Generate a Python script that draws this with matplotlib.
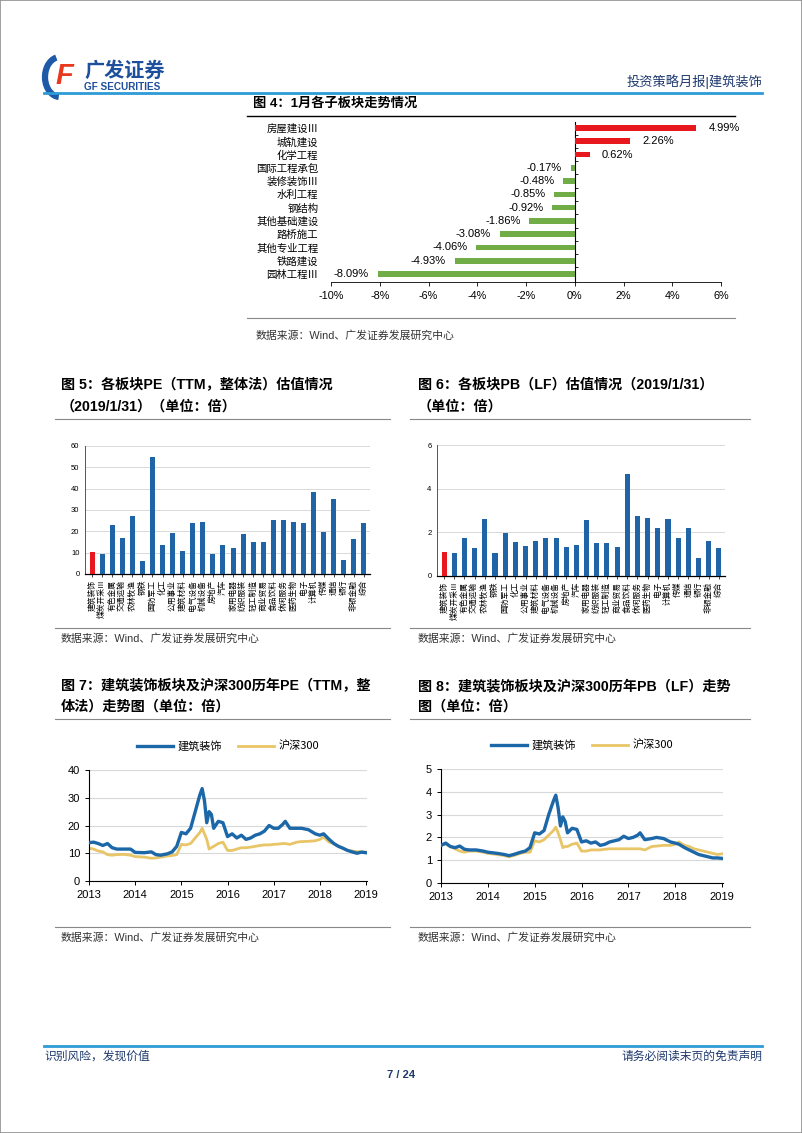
import matplotlib
matplotlib.use('Agg')
import matplotlib.pyplot as plt
from matplotlib.patches import Rectangle, Arc

plt.rcParams['font.family'] = ['Liberation Sans', 'Noto Sans CJK SC', 'DejaVu Sans']
plt.rcParams['axes.unicode_minus'] = False

W, H = 802, 1133

# ---- 图4 数据 ----
sub_names = ['房屋建设Ⅲ', '城轨建设', '化学工程', '国际工程承包', '装修装饰Ⅲ', '水利工程',
             '钢结构', '其他基础建设', '路桥施工', '其他专业工程', '铁路建设', '园林工程Ⅲ']
sub_ret = [4.99, 2.26, 0.62, -0.17, -0.48, -0.85, -0.92, -1.86, -3.08, -4.06, -4.93, -8.09]

# ---- 图5/6 数据 ----
inds = ['建筑装饰', '煤炭开采Ⅲ', '有色金属', '交通运输', '农林牧渔', '钢铁', '国防军工', '化工',
        '公用事业', '建筑材料', '电气设备', '机械设备', '房地产', '汽车', '家用电器', '纺织服装',
        '轻工制造', '商业贸易', '食品饮料', '休闲服务', '医药生物', '电子', '计算机', '传媒',
        '通信', '银行', '非银金融', '综合']
pe_ind = [10.3, 9.4, 22.8, 17.0, 27.2, 6.1, 54.8, 13.4, 19.1, 10.9, 23.9, 24.2, 9.4, 13.6,
          12.2, 18.9, 15.2, 15.2, 25.2, 25.2, 24.2, 23.9, 38.3, 19.8, 35.2, 6.6, 16.6, 24.1]
pb_ind = [1.12, 1.04, 1.72, 1.30, 2.59, 1.06, 1.96, 1.58, 1.39, 1.62, 1.75, 1.75, 1.32, 1.44,
          2.56, 1.53, 1.50, 1.35, 4.66, 2.73, 2.65, 2.21, 2.60, 1.75, 2.19, 0.84, 1.59, 1.26]

# ---- 图7/8 数据 ----
dates = [2013.0, 2013.1, 2013.2, 2013.3, 2013.4, 2013.5, 2013.6, 2013.75, 2013.9,
         2014.0, 2014.2, 2014.35, 2014.45, 2014.55, 2014.7, 2014.8, 2014.9,
         2015.0, 2015.1, 2015.2, 2015.3, 2015.4, 2015.45, 2015.5, 2015.55, 2015.6, 2015.65,
         2015.7, 2015.8, 2015.9,
         2016.0, 2016.1, 2016.2, 2016.3, 2016.4, 2016.5, 2016.6, 2016.7, 2016.8, 2016.9,
         2017.0, 2017.1, 2017.2, 2017.25, 2017.35, 2017.5, 2017.6, 2017.75, 2017.9,
         2018.0, 2018.08, 2018.2, 2018.3, 2018.4, 2018.5, 2018.6, 2018.7, 2018.8, 2018.9,
         2019.0]
pe_jz = [13.8, 14.0, 13.5, 12.8, 13.5, 12.0, 11.5, 11.5, 11.5,
         10.3, 10.2, 10.5, 9.5, 9.3, 9.8, 10.5, 12.5,
         17.5, 17.0, 19.0, 25.0, 31.0, 33.3, 29.0, 21.0, 25.0, 24.0,
         19.0, 21.5, 21.0,
         16.0, 17.0, 15.5, 16.5, 15.0, 15.5, 16.5, 17.0, 18.0, 20.0,
         19.0, 19.0, 20.5, 21.5, 19.0, 19.0, 19.0, 18.5, 17.0,
         16.5, 17.0, 15.0, 13.5, 12.5, 11.8, 11.0, 10.5, 10.0, 10.4,
         10.2]
pe_hs = [11.8, 11.5, 10.8, 10.5, 9.5, 9.3, 9.5, 9.6, 9.3,
         8.8, 8.6, 8.2, 8.3, 8.6, 9.0, 9.2, 9.5,
         13.2, 13.0, 13.5, 15.5, 17.5, 19.0, 17.0, 15.0, 11.5, 12.0,
         12.5, 13.5, 14.0,
         11.0, 11.0, 11.5, 12.0, 12.0, 12.2, 12.5, 12.8, 13.0, 13.0,
         13.2, 13.3, 13.5, 13.5, 13.2, 14.0, 14.2, 14.3, 14.5,
         15.0, 15.8, 14.0, 13.5, 12.5, 11.8, 11.0, 10.8, 10.6, 10.5,
         10.4]
pb_jz = [1.65, 1.75, 1.60, 1.55, 1.62, 1.48, 1.45, 1.45, 1.40,
         1.35, 1.30, 1.25, 1.20, 1.25, 1.35, 1.40, 1.55,
         2.20, 2.15, 2.30, 3.00, 3.60, 3.85, 3.30, 2.50, 2.90, 2.70,
         2.20, 2.40, 2.35,
         1.80, 1.85, 1.75, 1.80, 1.65, 1.70, 1.80, 1.85, 1.90, 2.05,
         1.95, 2.00, 2.10, 2.20, 1.90, 1.95, 2.00, 1.95, 1.80,
         1.75, 1.70, 1.55, 1.45, 1.35, 1.25, 1.20, 1.15, 1.10, 1.10,
         1.08]
pb_hs = [1.65, 1.70, 1.60, 1.50, 1.40, 1.35, 1.40, 1.40, 1.35,
         1.30, 1.25, 1.20, 1.15, 1.20, 1.30, 1.35, 1.35,
         1.85, 1.80, 1.90, 2.10, 2.30, 2.45, 2.20, 1.90, 1.55, 1.60,
         1.60, 1.70, 1.75,
         1.40, 1.40, 1.45, 1.45, 1.45, 1.48, 1.50, 1.50, 1.50, 1.50,
         1.50, 1.50, 1.50, 1.50, 1.45, 1.60, 1.62, 1.65, 1.65,
         1.70, 1.80, 1.65, 1.60, 1.50, 1.45, 1.40, 1.35, 1.30, 1.25,
         1.28]

BLUE = '#1f64a6'
LINE_BLUE = '#1b67a8'
YEL = '#e8c566'
RED = '#e8191e'
GREEN = '#70ad47'
NAVY = '#1f3a6e'
GRID = '#d9d9d9'
CJK = ['Noto Sans CJK SC', 'DejaVu Sans']


def box(x0, y0, x1, y1):
    return [x0 / W, 1 - y1 / H, (x1 - x0) / W, (y1 - y0) / H]


def P(x, y):
    return x / W, 1 - y / H


fig = plt.figure(figsize=(W / 100, H / 100), dpi=100)


def hline(x0, x1, y, color='black', lw=0.8):
    fig.add_artist(plt.Line2D([x0 / W, x1 / W], [1 - y / H, 1 - y / H], color=color, lw=lw))


# 页面边框
fig.add_artist(Rectangle((0, 0), 1, 1, transform=fig.transFigure, fill=False,
                         edgecolor='#909090', lw=1.2))

# ---- 页眉 ----
fig.add_artist(Arc(P(60, 77), 30 / W, 40 / H, theta1=105, theta2=265,
                   transform=fig.transFigure, color='#1e5aa8', lw=4.5))
fig.text(*P(64, 76), 'F', color='#e8381e', fontsize=21, fontweight='bold', style='italic',
         ha='center', va='center')
fig.text(*P(84, 71), '广发证券', color='#1e4f9c', fontsize=14.5, fontweight='bold', va='center')
fig.text(*P(84, 87), 'GF SECURITIES', color='#1e4f9c', fontsize=7.2, fontweight='bold', va='center')
fig.text(*P(762, 82), '投资策略月报|建筑装饰', color=NAVY, fontsize=9.5, ha='right', va='center')
hline(44, 762, 93, color='#2e9ad6', lw=2)

# ---- 图4 ----
fig.text(*P(253, 104), '图 4：1月各子板块走势情况', fontsize=9.5, fontweight='bold', va='center')
hline(247, 735, 116, lw=1)
ax4 = fig.add_axes(box(331, 122, 721, 282))
ypos = list(range(len(sub_names)))
cols = [RED if v > 0 else GREEN for v in sub_ret]
ax4.barh(ypos, sub_ret, height=0.42, color=cols)
for y, v in zip(ypos, sub_ret):
    if v > 0:
        ax4.text(v + 0.5, y, '%.2f%%' % v, va='center', ha='left', fontsize=8)
    else:
        ax4.text(v - 0.35, y, '%.2f%%' % v, va='center', ha='right', fontsize=8)
ax4.set_xlim(-10, 6)
ax4.set_ylim(11.6, -0.45)
ax4.set_xticks(range(-10, 7, 2))
ax4.set_xticklabels(['%d%%' % t for t in range(-10, 7, 2)], fontsize=7.8)
ax4.set_yticks(ypos)
ax4.set_yticklabels(sub_names, fontsize=7.5, family=CJK)
ax4.tick_params(axis='y', length=0, pad=9)
ax4.tick_params(axis='x', length=3, width=0.6)
for s in ['left', 'top', 'right']:
    ax4.spines[s].set_visible(False)
ax4.spines['bottom'].set_linewidth(0.6)
sec = ax4.secondary_yaxis(10 / 16)
sec.set_yticks([y + 0.5 for y in ypos[:-1]] + [-0.5])
sec.set_yticklabels([])
sec.tick_params(axis='y', direction='out', length=2.5, width=0.6)
sec.spines['left'].set_linewidth(0.8)
hline(247, 735, 318, color='#888888', lw=0.8)
fig.text(*P(256, 336), '数据来源：Wind、广发证券发展研究中心', fontsize=7.8, color='#333333', va='center')


# ---- 图5 / 图6 ----
def bar_panel(rect, vals, ymax, step, yfs):
    ax = fig.add_axes(rect)
    x = list(range(len(inds)))
    ax.bar(x, vals, width=0.5, color=[RED] + [BLUE] * (len(vals) - 1), zorder=3)
    ax.set_xlim(-0.7, len(inds) - 0.4)
    ax.set_ylim(0, ymax)
    ax.set_yticks(range(0, ymax + 1, step))
    ax.tick_params(axis='y', labelsize=yfs, length=0, pad=4)
    ax.set_xticks(x)
    ax.set_xticklabels(inds, rotation=90, fontsize=5.6, family=CJK)
    ax.tick_params(axis='x', length=2, width=0.5, pad=2)
    ax.grid(axis='y', color=GRID, lw=0.7, zorder=0)
    for s in ['top', 'right']:
        ax.spines[s].set_visible(False)
    ax.spines['left'].set_linewidth(0.7)
    ax.spines['left'].set_color('#555555')
    ax.spines['bottom'].set_linewidth(0.9)
    return ax


TFS = 10.2
fig.text(*P(61, 385), '图 5：各板块PE（TTM，整体法）估值情况', fontsize=TFS, fontweight='bold', va='center')
fig.text(*P(61, 407), '（2019/1/31）（单位：倍）', fontsize=TFS, fontweight='bold', va='center')
hline(55, 390, 419, color='#888888')
bar_panel(box(85, 446, 370, 574), pe_ind, 60, 10, 5.5)
hline(55, 390, 628, color='#888888')
fig.text(*P(61, 639), '数据来源：Wind、广发证券发展研究中心', fontsize=7.8, color='#333333', va='center')

fig.text(*P(418, 385), '图 6：各板块PB（LF）估值情况（2019/1/31）', fontsize=TFS, fontweight='bold', va='center')
fig.text(*P(418, 407), '（单位：倍）', fontsize=TFS, fontweight='bold', va='center')
hline(410, 750, 419, color='#888888')
bar_panel(box(437, 445, 725, 576), pb_ind, 6, 2, 5.5)
hline(410, 750, 628, color='#888888')
fig.text(*P(418, 639), '数据来源：Wind、广发证券发展研究中心', fontsize=7.8, color='#333333', va='center')


# ---- 图7 / 图8 ----
def line_panel(rect, jz, hs, ymax, step):
    ax = fig.add_axes(rect)
    ax.plot(dates, jz, color=LINE_BLUE, lw=2.4, label='建筑装饰', zorder=3)
    ax.plot(dates, hs, color=YEL, lw=2.0, label='沪深300', zorder=2)
    ax.set_xlim(2013, 2019.02)
    ax.set_ylim(0, ymax)
    ax.set_xticks(range(2013, 2020))
    ax.set_yticks(range(0, ymax + 1, step))
    ax.tick_params(axis='x', labelsize=8, length=3, width=0.7)
    ax.tick_params(axis='y', labelsize=8, length=3, width=0.7)
    ax.grid(axis='y', color=GRID, lw=0.8, zorder=0)
    for s in ['top', 'right']:
        ax.spines[s].set_visible(False)
    ax.spines['left'].set_linewidth(0.8)
    ax.spines['bottom'].set_linewidth(0.8)
    h = (rect[3] * H)
    ax.legend(loc='center', bbox_to_anchor=(0.5, 1 + 24 / h), ncol=2, frameon=False,
              handlelength=3.2, columnspacing=1.5, handletextpad=0.4,
              prop={'family': CJK, 'size': 8})
    return ax


fig.text(*P(61, 686), '图 7：建筑装饰板块及沪深300历年PE（TTM，整', fontsize=TFS, fontweight='bold', va='center')
fig.text(*P(61, 707), '体法）走势图（单位：倍）', fontsize=TFS, fontweight='bold', va='center')
hline(55, 390, 719, color='#888888')
line_panel(box(89, 770, 367, 881), pe_jz, pe_hs, 40, 10)
hline(55, 390, 927, color='#888888')
fig.text(*P(61, 938), '数据来源：Wind、广发证券发展研究中心', fontsize=7.8, color='#333333', va='center')

fig.text(*P(418, 686), '图 8：建筑装饰板块及沪深300历年PB（LF）走势', fontsize=TFS, fontweight='bold', va='center')
fig.text(*P(418, 707), '图（单位：倍）', fontsize=TFS, fontweight='bold', va='center')
hline(410, 750, 719, color='#888888')
line_panel(box(441, 769, 723, 883), pb_jz, pb_hs, 5, 1)
hline(410, 750, 927, color='#888888')
fig.text(*P(418, 938), '数据来源：Wind、广发证券发展研究中心', fontsize=7.8, color='#333333', va='center')

# ---- 页脚 ----
hline(44, 762, 1046, color='#2e9ad6', lw=2)
fig.text(*P(44, 1057), '识别风险，发现价值', fontsize=8.5, color=NAVY, va='center')
fig.text(*P(762, 1057), '请务必阅读末页的免责声明', fontsize=8.5, color=NAVY, va='center', ha='right')
fig.text(*P(401, 1075), '7 / 24', fontsize=8, color=NAVY, fontweight='bold', va='center', ha='center')

fig.savefig('out.png', dpi=100)
